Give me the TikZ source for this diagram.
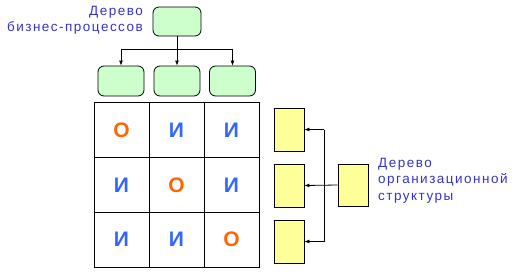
\documentclass[tikz,border=0pt]{standalone}
\usepackage{fontspec}
\setmainfont{Liberation Sans}
\usetikzlibrary{arrows.meta}
\definecolor{tree}{HTML}{3333CC}
\definecolor{ochar}{HTML}{FF6600}
\definecolor{ichar}{HTML}{3366FF}
\definecolor{greenbox}{HTML}{CCFFCC}
\definecolor{yellowbox}{HTML}{FFFF99}
\tikzset{
  procbox/.style={draw,thick,fill=greenbox,rounded corners=6pt,minimum width=46pt,minimum height=30pt,inner sep=0pt},
  orgbox/.style={draw,thick,fill=yellowbox,minimum width=30pt,minimum height=43pt,inner sep=0pt},
  cell/.style={draw,thick,minimum size=55pt,inner sep=0pt,font=\fontsize{21}{21}\selectfont\bfseries},
  treelabel/.style={text=tree,font=\fontsize{13.5}{16.5}\selectfont\addfontfeature{LetterSpace=11},inner sep=0pt},
  arr/.style={-{Latex[length=5pt,width=4pt]},thick}
}
\begin{document}
\begin{tikzpicture}[x=1pt,y=-1pt]
  \useasboundingbox (0,0) rectangle (520,277);
  \node[procbox,minimum width=48pt,minimum height=29pt] (bp) at (177,21.5){};
  \foreach \x[count=\i] in {121,177,232.5}
  {\node[procbox] (bp\i) at (\x,81){};}
  \node[treelabel,align=right,anchor=north east] (bplabel) at (143,6){Дерево\\бизнес-процессов};
  \draw[thick] (bp.south) -- ++(0,13) coordinate (bpfork);
  \draw[thick] (bpfork -| bp1) -- (bpfork -| bp3);
  \foreach \i in {1,2,3}
  {\draw[arr] (bpfork -| bp\i) -- (bp\i.north);}
  \foreach \a/\b/\c[count=\j] in {
    О/И/И,
    И/О/И,
    И/И/О%
  }
  {
    \foreach \t[count=\i] in {\a,\b,\c}
    {
      \ifnum\pdfstrcmp{\t}{О}=0 \def\col{ochar}\else\def\col{ichar}\fi
      \node[cell,text=\col] (c\j\i) at (66.5+55*\i,75.5+54.7*\j){\t};
    }
  }
  \foreach \y[count=\i] in {129.5,185.5,241.5}
  {\node[orgbox] (org\i) at (289,\y){};}
  \node[orgbox,minimum height=42pt] (org) at (353,185){};
  \node[treelabel,align=left,anchor=north west] (orglabel) at (378,158){Дерево\\организационной\\структуры};
  \coordinate (orgfork) at (324,185);
  \draw[thick] (orgfork |- org1) -- (orgfork |- org3);
  \draw[arr] (org.west) -- (org2.east);
  \foreach \i in {1,3}
  {\draw[arr] (orgfork |- org\i) -- (org\i.east);}
\end{tikzpicture}
\end{document}
